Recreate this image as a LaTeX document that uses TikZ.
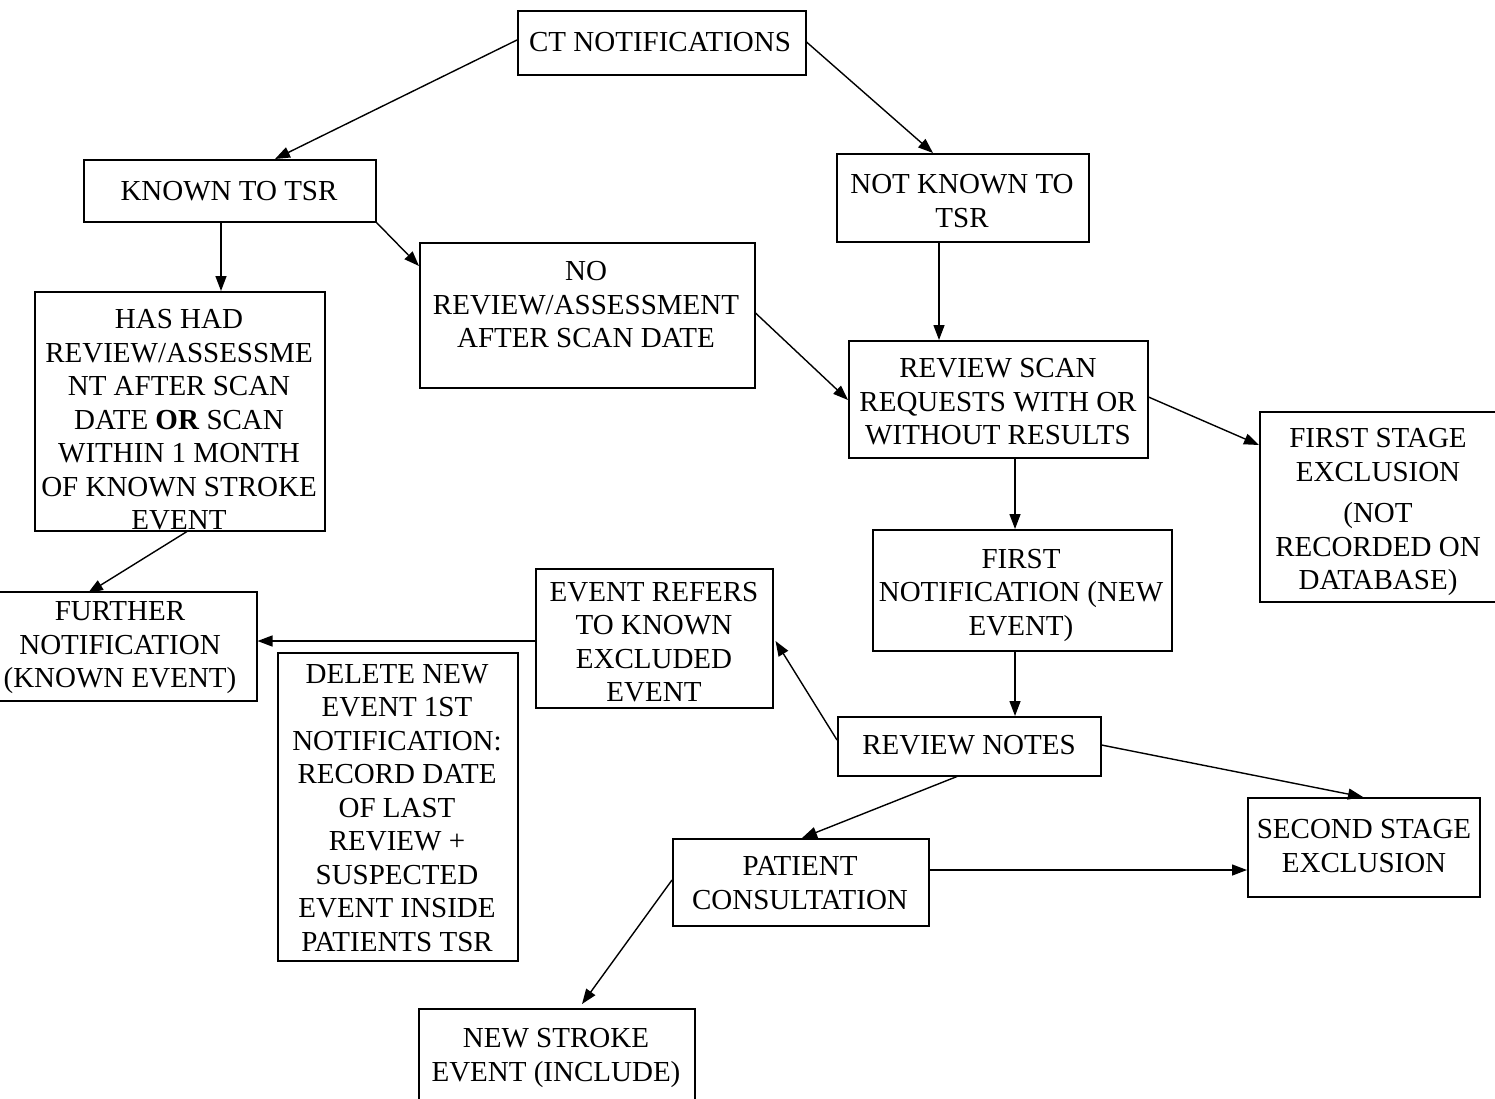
\documentclass[tikz,border=0pt]{standalone}
\usepackage{fontspec}
\setmainfont{Liberation Serif}
\usetikzlibrary{arrows.meta,calc}
\begin{document}
\begin{tikzpicture}[x=1pt,y=-1pt,
  box/.style={draw,line width=1.5pt,inner sep=0pt,anchor=north west},
  txt/.style={align=center,inner sep=0pt,yshift=-2pt,font=\fontsize{29}{33.5}\selectfont},
  arr/.style={line width=1.4pt,-{Triangle[length=15pt,width=11pt]}},
  ln/.style={line width=1.4pt}]
\useasboundingbox (0,0) rectangle (1495,1098);
% boxes
\node[box,minimum width=288,minimum height=64] (ct) at (517,10) {};
\node[box,minimum width=292,minimum height=62] (kn) at (83,159) {};
\node[box,minimum width=252,minimum height=88] (nk) at (836,153) {};
\node[box,minimum width=335,minimum height=145] (nr) at (419,242) {};
\node[box,minimum width=290,minimum height=239] (hh) at (34,291) {};
\node[box,minimum width=299,minimum height=117] (rs) at (848,340) {};
\node[box,minimum width=240,minimum height=190] (fs) at (1259,411) {};
\node[box,minimum width=299,minimum height=121] (fn) at (872,529) {};
\node[box,minimum width=237,minimum height=139] (er) at (535,568) {};
\node[box,minimum width=258,minimum height=109] (fu) at (-2,591) {};
\node[box,minimum width=240,minimum height=308] (de) at (277,652) {};
\node[box,minimum width=263,minimum height=59] (rn) at (837,716) {};
\node[box,minimum width=256,minimum height=87] (pc) at (672,838) {};
\node[box,minimum width=232,minimum height=99] (ss) at (1247,797) {};
\node[box,minimum width=276,minimum height=100] (ns) at (418,1008) {};
% texts
\node[txt] (ct-t) at (660,40) {CT NOTIFICATIONS};
\node[txt] (kn-t) at (229,189) {KNOWN TO TSR};
\node[txt] (nk-t) at (962,199) {NOT KNOWN TO\\TSR};
\node[txt] (nr-t) at (586,303) {NO\\REVIEW/ASSESSMENT\\AFTER SCAN DATE};
\node[txt] (hh-t) at (179,418) {HAS HAD\\REVIEW/ASSESSME\\NT AFTER SCAN\\DATE \textbf{OR} SCAN\\WITHIN 1 MONTH\\OF KNOWN STROKE\\EVENT};
\node[txt] (rs-t) at (998,400) {REVIEW SCAN\\REQUESTS WITH OR\\WITHOUT RESULTS};
\node[txt] (fs-t) at (1378,510) {FIRST STAGE\\EXCLUSION\\[8pt](NOT\\RECORDED ON\\DATABASE)};
\node[txt] (fn-t) at (1021,593) {FIRST\\NOTIFICATION (NEW\\EVENT)};
\node[txt] (er-t) at (654,640) {EVENT REFERS\\TO KNOWN\\EXCLUDED\\EVENT};
\node[txt] (fu-t) at (120,646) {FURTHER\\NOTIFICATION\\(KNOWN EVENT)};
\node[txt] (de-t) at (397,806) {DELETE NEW\\EVENT 1ST\\NOTIFICATION:\\RECORD DATE\\OF LAST\\REVIEW +\\SUSPECTED\\EVENT INSIDE\\PATIENTS TSR};
\node[txt] (rn-t) at (969,743) {REVIEW NOTES};
\node[txt] (pc-t) at (800,881) {PATIENT\\CONSULTATION};
\node[txt] (ss-t) at (1364,844) {SECOND STAGE\\EXCLUSION};
\node[txt] (ns-t) at (556,1056) {NEW STROKE\\EVENT (INCLUDE)};
% connectors
\draw[arr] ($(ct.north west)+(0,30)$) -- ($(kn.north west)+(192,0)$);
\draw[arr] ($(ct.north east)+(0,32)$) -- ($(nk.north west)+(97,0)$);
\draw[arr] ($(kn.south west)+(138,0)$) -- ($(hh.north west)+(187,0)$);
\draw[arr] (kn.south east) -- ($(nr.north west)+(0,24)$);
\draw[arr] ($(nk.south west)+(103,0)$) -- ($(rs.north west)+(91,0)$);
\draw[arr] ($(nr.north east)+(0,71)$) -- ($(rs.north west)+(0,60)$);
\draw[arr] ($(rs.north east)+(0,57)$) -- ($(fs.north west)+(0,34)$);
\draw[arr] ($(rs.south west)+(167,0)$) -- ($(fn.north west)+(143,0)$);
\draw[arr] ($(fn.south west)+(143,0)$) -- ($(rn.north west)+(178,0)$);
\draw[arr] ($(rn.north west)+(0,24)$) -- ($(er.north east)+(2,73)$);
\draw[arr] ($(er.north west)+(0,73)$) -- ($(fu.north east)+(0,50)$);
\draw[arr] ($(hh.south west)+(153,0)$) -- ($(fu.north west)+(90,2)$);
\draw[arr] ($(rn.north east)+(0,29)$) -- ($(ss.north west)+(116,0)$);
\draw[arr] ($(rn.south west)+(120,0)$) -- ($(pc.north west)+(130,0)$);
\draw[arr] ($(pc.north east)+(0,32)$) -- ($(ss.north west)+(0,73)$);
\draw[arr] ($(pc.north west)+(0,42)$) -- ($(ns.north west)+(164,-4)$);
\end{tikzpicture}
\end{document}
